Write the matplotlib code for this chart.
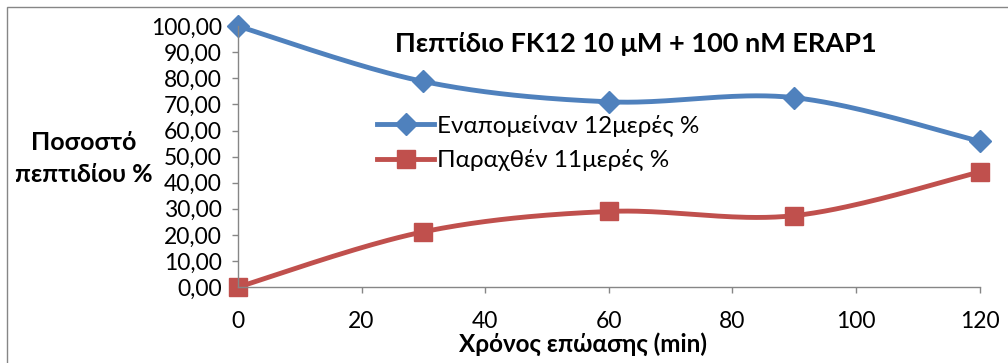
import numpy as np
import matplotlib.pyplot as plt
from matplotlib.ticker import FuncFormatter

plt.rcParams['font.family'] = ['Lato', 'Open Sans', 'DejaVu Sans']

time_min = [0, 30, 60, 90, 120]
remaining_12mer = [100.0, 78.8, 71.0, 72.6, 55.9]
produced_11mer = [0.0, 21.2, 29.0, 27.4, 44.1]

series_labels = ["Εναπομείναν 12μερές %", "Παραχθέν 11μερές %"]
title = "Πεπτίδιο FK12 10 μM + 100 nM ERAP1"
xlabel = "Χρόνος επώασης (min)"
ylabel = "Ποσοστό\nπεπτιδίου %"

BLUE = "#4F81BD"
RED = "#C0504D"


def smooth(xs, ys, n=40):
    # cardinal spline through the points, like a spreadsheet "smoothed line"
    xs = np.asarray(xs, float)
    ys = np.asarray(ys, float)
    px = np.concatenate([[xs[0]], xs, [xs[-1]]])
    py = np.concatenate([[ys[0]], ys, [ys[-1]]])
    t = 1.0 / 6.0
    ox, oy = [], []
    s = np.linspace(0, 1, n)
    for i in range(1, len(px) - 2):
        p0 = np.array([px[i], py[i]])
        p3 = np.array([px[i + 1], py[i + 1]])
        c1 = p0 + t * (p3 - np.array([px[i - 1], py[i - 1]]))
        c2 = p3 - t * (np.array([px[i + 2], py[i + 2]]) - p0)
        b = ((1 - s) ** 3)[:, None] * p0 + (3 * (1 - s) ** 2 * s)[:, None] * c1 \
            + (3 * (1 - s) * s ** 2)[:, None] * c2 + (s ** 3)[:, None] * p3
        ox.extend(b[:, 0])
        oy.extend(b[:, 1])
    return ox, oy


fig = plt.figure(figsize=(10.08, 3.63), dpi=100)
ax = fig.add_axes([0.236, 0.209, 0.736, 0.719])

for ys, col, mk, ms, lab in [(remaining_12mer, BLUE, 'D', 11, series_labels[0]),
                             (produced_11mer, RED, 's', 13.5, series_labels[1])]:
    sx, sy = smooth(time_min, ys)
    ax.plot(sx, sy, color=col, lw=3.5, solid_capstyle='round', clip_on=False)
    ax.plot(time_min, ys, linestyle='none', marker=mk, ms=ms, color=col, clip_on=False)
    ax.plot([], [], color=col, lw=3.5, marker=mk, ms=ms, label=lab)

ax.set_xlim(0, 120)
ax.set_ylim(0, 100)
ax.set_xticks(range(0, 121, 20))
ax.set_yticks(range(0, 101, 10))
ax.yaxis.set_major_formatter(FuncFormatter(lambda v, p: f"{v:.2f}".replace('.', ',')))

for side in ['top', 'right']:
    ax.spines[side].set_visible(False)
for side in ['left', 'bottom']:
    ax.spines[side].set_color('#868686')
    ax.spines[side].set_linewidth(1)
ax.tick_params(axis='both', colors='#868686', labelcolor='black', labelsize=16.5,
               length=4.5, width=1)
ax.tick_params(axis='x', pad=13)
ax.tick_params(axis='y', pad=7)

fig.text(0.631, 0.88, title, ha='center', va='center', fontsize=19.5, fontweight='bold')
fig.text(0.083, 0.563, ylabel, ha='center', va='center', fontsize=18,
         fontweight='bold', linespacing=1.45)
fig.text(0.578, 0.052, xlabel, ha='center', va='center', fontsize=17.5, fontweight='bold')

leg = ax.legend(loc='upper left', bbox_to_anchor=(0.188, 0.66), frameon=False,
                fontsize=17.5, handlelength=2.35, handletextpad=0.12, labelspacing=0.5,
                borderaxespad=0, borderpad=0)

fig.patches.append(plt.Rectangle((0.007, -0.01), 0.995, 0.99, transform=fig.transFigure,
                                 fill=False, edgecolor='#868686', lw=1))

fig.savefig("out.png", dpi=100)
